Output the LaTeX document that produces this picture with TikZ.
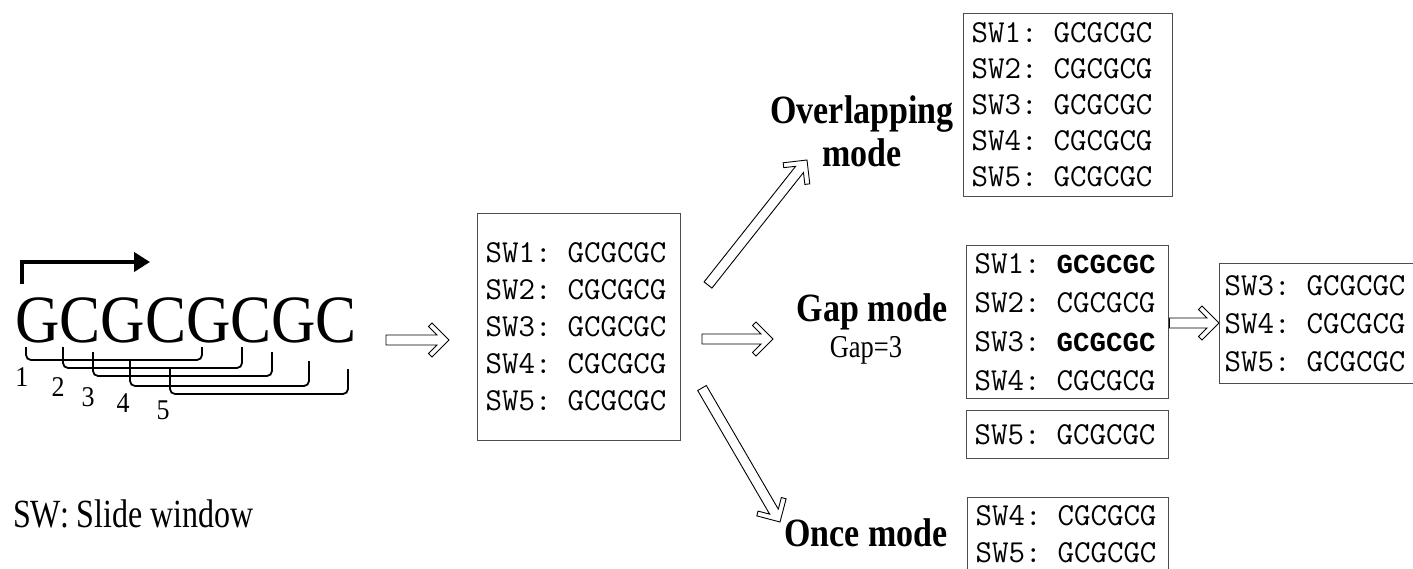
\documentclass[tikz,border=0pt]{standalone}
\usepackage{fontspec}
\setmainfont{Liberation Serif}
\newfontfamily\boldmono{Liberation Mono}
\usepackage{tikz}
\usetikzlibrary{calc,positioning,arrows.meta,backgrounds}
\pgfdeclarelayer{edgelayer}
\pgfdeclarelayer{nodelayer}
\pgfsetlayers{background,edgelayer,nodelayer,main}
\tikzstyle{none}=[inner sep=0mm]
\tikzstyle{seq}=[inner sep=0mm,yscale=1.1,font=\fontsize{61.5}{62}\selectfont]
\tikzstyle{num}=[inner sep=0mm,yscale=1.1,font=\fontsize{26}{26}\selectfont]
\tikzstyle{legend}=[inner sep=0mm,yscale=1.25,font=\fontsize{32}{34}\selectfont]
\tikzstyle{modelabel}=[inner sep=0mm,yscale=1.18,align=center,font=\fontsize{34}{36.5}\selectfont\bfseries]
\tikzstyle{gaplabel}=[inner sep=0mm,yscale=1.2,font=\fontsize{26.5}{28}\selectfont]
\tikzstyle{swbox}=[draw=black!70,line width=1.3pt,anchor=north west,inner xsep=8pt,inner ysep=0pt,align=left,font=\ttfamily\fontsize{32}{37}\selectfont]
\tikzstyle{win}=[line width=1.8pt,rounded corners=5pt]
\tikzstyle{bent}=[line width=4pt,line join=miter,-{Triangle[length=16pt,width=19pt]}]
\tikzstyle{hollow}=[line width=0.9pt,line join=miter,fill=white,to path={
	($(\tikztostart)!5pt!90:(\tikztotarget)$) --
	($(\tikztotarget)!13pt!-22.6:(\tikztostart)$) --
	($(\tikztotarget)!24.5pt!-33.4:(\tikztostart)$) --
	($(\tikztotarget)!24pt!-45:(\tikztostart)$) --
	(\tikztotarget) --
	($(\tikztotarget)!24pt!45:(\tikztostart)$) --
	($(\tikztotarget)!24.5pt!33.4:(\tikztostart)$) --
	($(\tikztotarget)!13pt!22.6:(\tikztostart)$) --
	($(\tikztostart)!5pt!-90:(\tikztotarget)$) -- cycle}]
\newcommand{\bgc}{{\boldmono\bfseries\fontsize{27.5}{39}\selectfont GCGCGC}}

\begin{document}
\begin{tikzpicture}[x=1pt,y=-1pt]
	\useasboundingbox (0,0) rectangle (1413,569);
	\clip (0,0) rectangle (1413,569);
	\begin{pgfonlayer}{nodelayer}
		% input sequence
		\node [style=seq, anchor=base west] (dna) at (15,342) {GCGCGCGC};
		\node [style=legend, anchor=base west] (legend) at (13,527) {SW: Slide window};
		% all windows
		\node [style=swbox, text width=187pt, minimum height=227pt] (allsw) at (477,213)
			{SW1: GCGCGC\\SW2: CGCGCG\\SW3: GCGCGC\\SW4: CGCGCG\\SW5: GCGCGC};
		% overlapping mode
		\node [style=modelabel] (overlab) at (862,131) {Overlapping\\mode};
		\node [style=swbox, text width=193pt, minimum height=183pt, font=\ttfamily\fontsize{32}{36}\selectfont] (oversw) at (963,13)
			{SW1: GCGCGC\\SW2: CGCGCG\\SW3: GCGCGC\\SW4: CGCGCG\\SW5: GCGCGC};
		% gap mode
		\node [style=modelabel] (gaplab) at (872,312) {Gap mode};
		\node [style=gaplabel] (gapval) at (866,350) {Gap=3};
		\node [style=swbox, text width=186pt, minimum height=153pt, font=\ttfamily\fontsize{32}{39}\selectfont] (gapsw) at (966,245)
			{SW1: \bgc\\SW2: CGCGCG\\SW3: \bgc\\SW4: CGCGCG};
		\node [style=swbox, text width=186pt, minimum height=48pt] (gaprest) at (966,410) {SW5: GCGCGC};
		\node [style=swbox, inner xsep=5pt, text width=220pt, minimum height=120pt, font=\ttfamily\fontsize{32}{38}\selectfont] (gapout) at (1219,263)
			{SW3: GCGCGC\\SW4: CGCGCG\\SW5: GCGCGC};
		% once mode
		\node [style=modelabel] (oncelab) at (866,533) {Once mode};
		\node [style=swbox, text width=185pt, minimum height=110pt, font=\ttfamily\fontsize{32}{37}\selectfont] (oncesw) at (967,497)
			{SW4: CGCGCG\\SW5: GCGCGC\\\phantom{SW6}};
	\end{pgfonlayer}
	\begin{pgfonlayer}{edgelayer}
		\coordinate (dirs) at (22,284);
		\coordinate (dirt) at (150,262);
		\draw [style=bent] (dirs) |- (dirt);
		% slide windows
		\foreach \l/\r/\t/\b/\n/\nx/\ny in {26/202/347/360/1/22/377, 63/242/347/368/2/58/387,
			93/272/352/376/3/88/397, 130/309/361/386/4/123/403, 170/348/369/394/5/163/410} {
			\draw [style=win] (\l,\t) |- (\r,\b) -- (\r,\t);
			\node [style=num] (n\n) at (\nx,\ny) {\n};
		}
		% arrows
		\coordinate (a1s) at (386,340);
		\coordinate (a1e) at (449,340);
		\coordinate (a2s) at (708,285);
		\coordinate (a2e) at (807,160);
		\coordinate (a3s) at (702,339);
		\coordinate (a3e) at (773,339);
		\coordinate (a4s) at (702,388);
		\coordinate (a4e) at (780,522);
		\coordinate (a5s) at (gapsw.east |- 0,323);
		\coordinate (a5e) at (gapout.west |- 0,323);
		\draw [style=hollow] (a1s) to (a1e);
		\draw [style=hollow] (a2s) to (a2e);
		\draw [style=hollow] (a3s) to (a3e);
		\draw [style=hollow] (a4s) to (a4e);
		\draw [style=hollow] (a5s) to (a5e);
	\end{pgfonlayer}
\end{tikzpicture}
\end{document}
